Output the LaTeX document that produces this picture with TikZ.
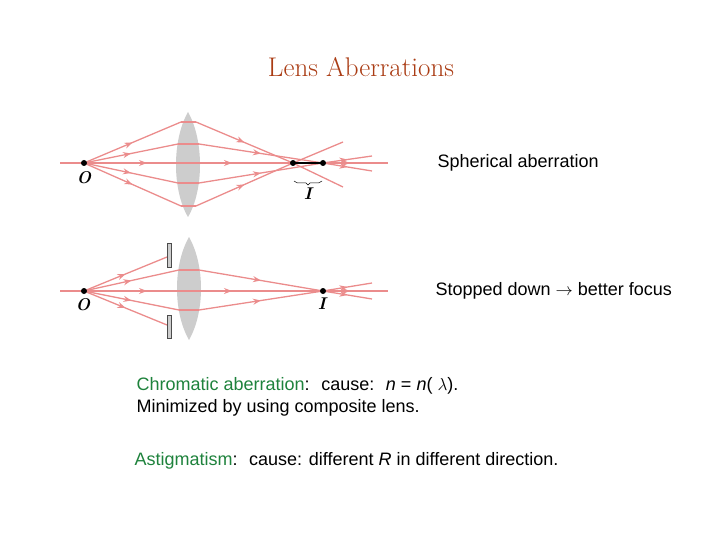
\documentclass[tikz,border=0pt]{standalone}
\usepackage{fontspec}
\setsansfont{Liberation Sans}
\usetikzlibrary{decorations.markings,arrows.meta}
\definecolor{ray}{RGB}{235,140,140}
\definecolor{lensg}{RGB}{205,205,205}
\definecolor{titlec}{RGB}{170,60,20}
\definecolor{chrom}{RGB}{30,130,60}
\tikzset{
 rayline/.style={draw=ray,line width=1.3pt},
 rayarr/.style={rayline,postaction={decorate},decoration={markings,mark=at position 0.5 with {\arrow[ray]{Stealth[length=8pt,width=6pt]}}}},
 dot/.style={circle,fill=black,inner sep=0pt,minimum size=6pt},
 lbl/.style={font=\sffamily\fontsize{18}{21}\selectfont,anchor=west},
 ol/.style={font=\bfseries\itshape\fontsize{17}{19}\selectfont},
 stopb/.style={draw=black!70,fill=lensg,line width=0.6pt}
}
\begin{document}
\begin{tikzpicture}[x=1pt,y=-1pt]
\useasboundingbox (0,0) rectangle (720,540);
\node[font=\fontsize{27}{30}\selectfont,text=titlec] (title) at (361,67) {Lens Aberrations};
% ---------- top diagram
\fill[lensg] (188,112) .. controls (204,140) and (204,190) .. (188,217) .. controls (172,190) and (172,140) .. (188,112);
\coordinate (O1) at (84,163);
\coordinate (F1) at (293,163);
\coordinate (F2) at (323,163);
\draw[rayline] (60,163) -- (388,163);
\foreach \x in {147,232,350}{\path[rayarr] (\x-10,163) -- (\x+10,163);}
% outer rays
\draw[rayarr] (O1) -- (181,122); \draw[rayline] (181,122) -- (196,122); \draw[rayarr] (196,122) -- (F1); \draw[rayline] (F1) -- (343,142);
\draw[rayarr] (O1) -- (181,206); \draw[rayline] (181,206) -- (196,206); \draw[rayarr] (196,206) -- (F1); \draw[rayline] (F1) -- (343,187);
% inner rays
\draw[rayarr] (O1) -- (178,144); \draw[rayline] (178,144) -- (199,144); \draw[rayarr] (199,144) -- (F2); \draw[rayarr] (F2) -- (372,156);
\draw[rayarr] (O1) -- (178,183); \draw[rayline] (178,183) -- (199,183); \draw[rayarr] (199,183) -- (F2); \draw[rayarr] (F2) -- (372,171);
\draw[black,line width=1.4pt] (F1) -- (F2);
\node[dot] (o1) at (O1) {};
\node[dot] (f1) at (F1) {};
\node[dot] (f2) at (F2) {};
\node[ol] (Olab1) at (84,178) {O};
\draw[black,line width=0.5pt] (294,181) .. controls (296,183) .. (306,183) -- (308,185) -- (310,183) .. controls (320,183) .. (322,181);
\node[ol] (Ilab1) at (308,194) {I};
\node[lbl] (sph) at (434,163) {Spherical aberration};
% ---------- bottom diagram
\fill[lensg] (189,237) .. controls (205,265) and (205,312) .. (189,340) .. controls (173,312) and (173,265) .. (189,237);
\coordinate (O2) at (84,291);
\coordinate (F3) at (323,291);
\draw[rayline] (60,291) -- (388,291);
\foreach \x in {147,232,350}{\path[rayarr] (\x-10,291) -- (\x+10,291);}
\draw[rayarr] (O2) -- (167,257);
\draw[rayarr] (O2) -- (167,325);
\draw[rayarr] (O2) -- (179,270); \draw[rayline] (179,270) -- (199,270); \draw[rayarr] (199,270) -- (F3); \draw[rayarr] (F3) -- (372,283);
\draw[rayarr] (O2) -- (179,310); \draw[rayline] (179,310) -- (199,310); \draw[rayarr] (199,310) -- (F3); \draw[rayarr] (F3) -- (372,299);
\draw[stopb] (167.5,243) rectangle (171,267);
\draw[stopb] (167.5,315) rectangle (171,338);
\node[dot] (o2) at (O2) {};
\node[dot] (f3) at (F3) {};
\node[ol] (Olab2) at (83,305) {O};
\node[ol] (Ilab2) at (322,304) {I};
\node[lbl] (stop) at (432,291) {Stopped down $\rightarrow$ better focus};
% ---------- text
\node[lbl] (chr1) at (133,386) {\textcolor{chrom}{Chromatic aberration}: \ cause: \ \textit{n} = \textit{n}( $\lambda$).};
\node[lbl] (chr2) at (133,408) {Minimized by using composite lens.};
\node[lbl] (ast) at (131,461) {\textcolor{chrom}{Astigmatism}: \ cause: different \textit{R} in different direction.};
\end{tikzpicture}
\end{document}
